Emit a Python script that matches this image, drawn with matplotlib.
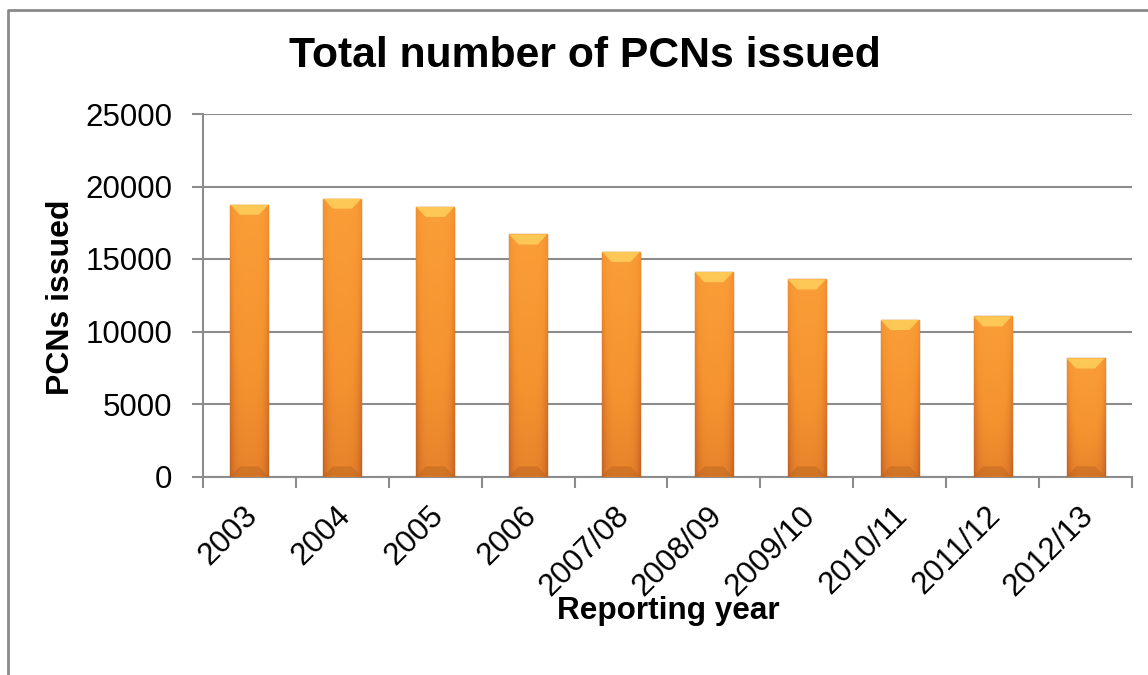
import numpy as np
import matplotlib
matplotlib.use("Agg")
import matplotlib.pyplot as plt
from matplotlib.lines import Line2D
from matplotlib.colors import LinearSegmentedColormap
from matplotlib.transforms import ScaledTranslation

years = ["2003", "2004", "2005", "2006", "2007/08", "2008/09", "2009/10",
         "2010/11", "2011/12", "2012/13"]
pcns = [18750, 19170, 18600, 16700, 15500, 14100, 13600, 10800, 11050, 8150]
yticks = [0, 5000, 10000, 15000, 20000, 25000]

title = "Total number of PCNs issued"
xlabel = "Reporting year"
ylabel = "PCNs issued"

plt.rcParams['font.family'] = ['Liberation Sans', 'DejaVu Sans']

W, H = 1148, 675
fig = plt.figure(figsize=(W / 100, H / 100), dpi=100)
ax = fig.add_axes([203 / W, 1 - 476.5 / H, (1132 - 203) / W, (476.5 - 114) / H])

grid_c = "#8c8c8c"
x = np.arange(len(years))
bars = ax.bar(x, pcns, width=0.41, color="#F39331", edgecolor="#C0621C",
              linewidth=1.0, zorder=3)

ny, nx = 100, 40
yy = np.linspace(0, 1, ny)[:, None]
xx = np.linspace(-1, 1, nx)[None, :]
shade = 0.5 + 0.5 * yy - 0.35 * (np.abs(xx) ** 4)
shade = np.clip(shade, 0, 1)
cmap = LinearSegmentedColormap.from_list("o", ["#B0561A", "#D97428", "#F4922F", "#FA9E38"])
for b in bars:
    x0, w, h = b.get_x(), b.get_width(), b.get_height()
    im = ax.imshow(shade, cmap=cmap, vmin=0, vmax=1, origin="lower",
                   extent=[x0, x0 + w, 0, h], aspect="auto", zorder=3.5,
                   interpolation="bilinear")
    im.set_clip_path(b)
    bev = 700
    ax.fill([x0, x0 + w, x0 + w * 0.75, x0 + w * 0.25],
            [h, h, h - bev, h - bev], color="#FFD35E", alpha=0.8,
            lw=0, zorder=4)
    ax.fill([x0, x0 + w, x0 + w * 0.75, x0 + w * 0.25],
            [0, 0, bev, bev], color="#B9621F", alpha=0.45,
            lw=0, zorder=4)

ax.set_xlim(-0.5, len(years) - 0.5)
ax.set_ylim(0, 25000)
ax.set_yticks(yticks)
ax.set_yticklabels([str(v) for v in yticks], fontsize=22.5)
ax.yaxis.grid(True, color=grid_c, linewidth=1.5, zorder=0)
ax.set_axisbelow(True)

ax.set_xticks(x)
ax.set_xticklabels(years, rotation=45, ha="right", rotation_mode="anchor",
                   fontsize=22.5)
ax.tick_params(axis="x", length=0, pad=16)
off = ScaledTranslation(-7 / 100, -2 / 100, fig.dpi_scale_trans)
for lbl in ax.get_xticklabels():
    lbl.set_transform(lbl.get_transform() + off)
ax.set_xticks(np.arange(-0.5, len(years)), minor=True)
ax.tick_params(axis="x", which="minor", length=8, width=1.5, color=grid_c,
               direction="out")
ax.tick_params(axis="y", length=8, width=1.5, color=grid_c, direction="out", pad=14)

for s in ["top", "right"]:
    ax.spines[s].set_visible(False)
for s in ["left", "bottom"]:
    ax.spines[s].set_color(grid_c)
    ax.spines[s].set_linewidth(1.5)

fig.text(585 / W, 1 - 56 / H, title, fontsize=30.7, fontweight="bold",
         ha="center", va="center")
fig.text(668 / W, 1 - 611 / H, xlabel, fontsize=22.7, fontweight="bold",
         ha="center", va="center")
fig.text(61 / W, 1 - 297 / H, ylabel, fontsize=23, fontweight="bold",
         ha="center", va="center", rotation=90)

fig.add_artist(Line2D([8 / W, 8 / W, 1.0], [0.0, 1 - 10 / H, 1 - 10 / H],
                      color="#8a8a8a", linewidth=2, transform=fig.transFigure))

fig.savefig("out.png", dpi=100)
